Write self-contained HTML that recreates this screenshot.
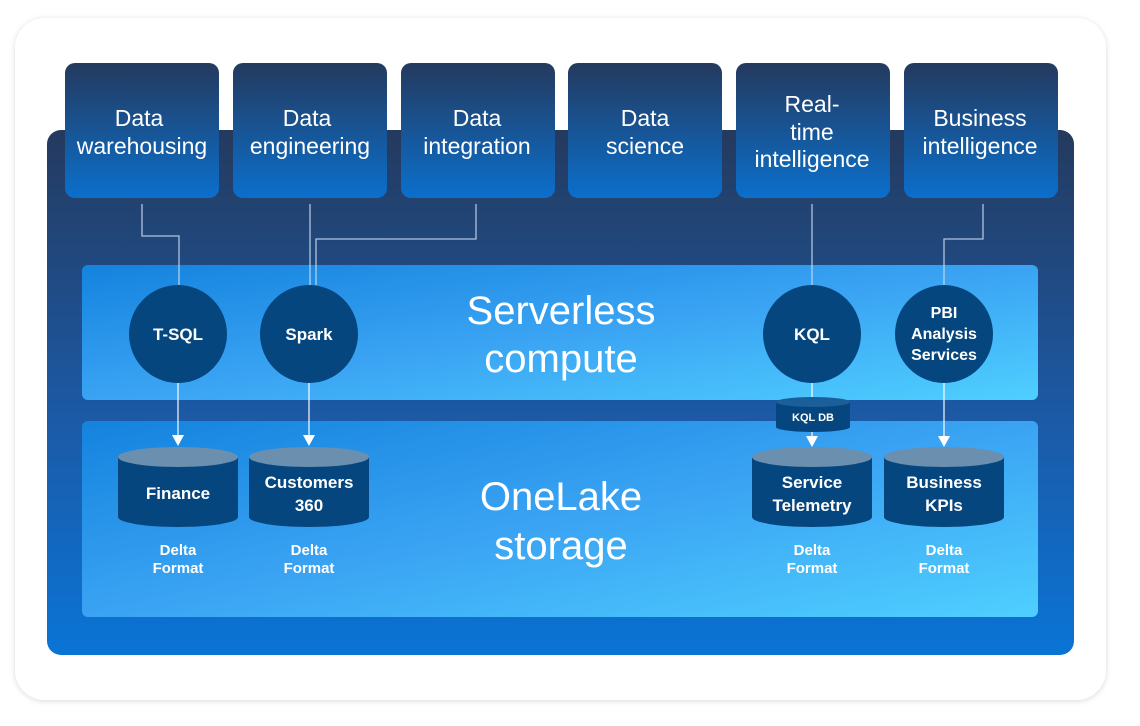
<!DOCTYPE html>
<html><head><meta charset="utf-8"><style>
html,body{margin:0;padding:0;background:#fff;}
svg{display:block;font-family:"Liberation Sans",sans-serif;}
</style></head><body>
<svg width="1140" height="726" viewBox="0 0 1140 726" xmlns="http://www.w3.org/2000/svg">
<defs>
<linearGradient id="panel" x1="0" y1="0" x2="0" y2="1">
<stop offset="0" stop-color="#243a5e"/><stop offset="0.55" stop-color="#1c5aa6"/><stop offset="1" stop-color="#0a74d6"/></linearGradient>
<linearGradient id="box" x1="0" y1="0" x2="0" y2="1">
<stop offset="0" stop-color="#243a5e"/><stop offset="1" stop-color="#0b6fcc"/></linearGradient>
<linearGradient id="band" x1="0" y1="0" x2="1" y2="1">
<stop offset="0" stop-color="#1483de"/><stop offset="0.5" stop-color="#3aa3f3"/><stop offset="1" stop-color="#4fcfff"/></linearGradient>
<filter id="sh" x="-5%" y="-5%" width="110%" height="110%"><feDropShadow dx="0" dy="1" stdDeviation="3" flood-color="#000" flood-opacity="0.15"/></filter>
</defs>
<rect x="15" y="18" width="1091" height="682" rx="30" fill="#fff" filter="url(#sh)"/>
<rect x="47" y="130" width="1027" height="525" rx="14" fill="url(#panel)"/>
<g fill="url(#box)">
<rect x="65" y="63" width="154" height="135" rx="10"/>
<rect x="233" y="63" width="154" height="135" rx="10"/>
<rect x="401" y="63" width="154" height="135" rx="10"/>
<rect x="568" y="63" width="154" height="135" rx="10"/>
<rect x="736" y="63" width="154" height="135" rx="10"/>
<rect x="904" y="63" width="154" height="135" rx="10"/>
</g>
<g fill="#fff" font-size="23" text-anchor="middle">
<text x="139" y="126">Data</text><text x="142" y="154">warehousing</text>
<text x="307" y="126">Data</text><text x="310" y="154">engineering</text>
<text x="477" y="126">Data</text><text x="477" y="154">integration</text>
<text x="645" y="126">Data</text><text x="645" y="154">science</text>
<text x="812" y="112">Real-</text><text x="812" y="140">time</text><text x="812" y="167">intelligence</text>
<text x="980" y="126">Business</text><text x="980" y="154">intelligence</text>
</g>
<rect x="82" y="265" width="956" height="135" rx="6" fill="url(#band)"/>
<rect x="82" y="421" width="956" height="196" rx="6" fill="url(#band)"/>
<g stroke="#c8dcf0" stroke-width="1.3" fill="none" opacity="0.85">
<path d="M142 204 V236 H179 V285"/>
<path d="M310 204 V285"/>
<path d="M476 204 V239 H316 V285"/>
<path d="M812 204 V285"/>
<path d="M983 204 V239 H944 V285"/>
</g>
<g stroke="#fff" stroke-width="1.3" fill="none" opacity="0.9">
<path d="M178 383 V436"/><path d="M309 383 V436"/><path d="M812 383 V398"/><path d="M812 431 V438"/><path d="M944 383 V438"/>
</g>
<g fill="#fff">
<path d="M172 435 L184 435 L178 446Z"/><path d="M303 435 L315 435 L309 446Z"/>
<path d="M806 436 L818 436 L812 447Z"/><path d="M938 436 L950 436 L944 447Z"/>
</g>
<g fill="#06467f">
<circle cx="178" cy="334" r="49"/><circle cx="309" cy="334" r="49"/>
<circle cx="812" cy="334" r="49"/><circle cx="944" cy="334" r="49"/>
</g>
<g fill="#fff" font-weight="bold" font-size="17" text-anchor="middle">
<text x="178" y="340">T-SQL</text><text x="309" y="340">Spark</text><text x="812" y="340">KQL</text>
<text x="944" y="318" font-size="16">PBI</text><text x="944" y="339" font-size="16">Analysis</text><text x="944" y="360" font-size="16">Services</text>
</g>
<g fill="#fff" font-size="40" text-anchor="middle">
<text x="561" y="324">Serverless</text><text x="561" y="372">compute</text>
<text x="561" y="510">OneLake</text><text x="561" y="559">storage</text>
</g>
<path d="M776 402 V427 A37 5 0 0 0 850 427 V402Z" fill="#06467f"/>
<ellipse cx="813" cy="402" rx="37" ry="5" fill="#1a5f9a"/>
<text x="813" y="421" fill="#fff" font-size="11" font-weight="bold" text-anchor="middle">KQL DB</text>
<g>
<path d="M118 457 V517 A60 10 0 0 0 238 517 V457Z" fill="#06467f"/><ellipse cx="178" cy="457" rx="60" ry="10" fill="#6a8faf"/>
<path d="M249 457 V517 A60 10 0 0 0 369 517 V457Z" fill="#06467f"/><ellipse cx="309" cy="457" rx="60" ry="10" fill="#6a8faf"/>
<path d="M752 457 V517 A60 10 0 0 0 872 517 V457Z" fill="#06467f"/><ellipse cx="812" cy="457" rx="60" ry="10" fill="#6a8faf"/>
<path d="M884 457 V517 A60 10 0 0 0 1004 517 V457Z" fill="#06467f"/><ellipse cx="944" cy="457" rx="60" ry="10" fill="#6a8faf"/>
</g>
<g fill="#fff" font-weight="bold" font-size="17" text-anchor="middle">
<text x="178" y="499">Finance</text>
<text x="309" y="488">Customers</text><text x="309" y="511">360</text>
<text x="812" y="488">Service</text><text x="812" y="511">Telemetry</text>
<text x="944" y="488">Business</text><text x="944" y="511">KPIs</text>
</g>
<g fill="#fff" font-weight="bold" font-size="15" text-anchor="middle">
<text x="178" y="555">Delta</text><text x="178" y="573">Format</text>
<text x="309" y="555">Delta</text><text x="309" y="573">Format</text>
<text x="812" y="555">Delta</text><text x="812" y="573">Format</text>
<text x="944" y="555">Delta</text><text x="944" y="573">Format</text>
</g>
</svg>
</body></html>
